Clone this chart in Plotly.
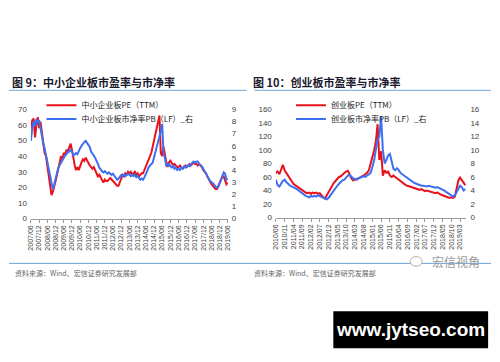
import pandas as pd
import plotly.graph_objects as go

W, H = 500, 362

# ---------------- data ----------------
sme_pe = [58, 63, 64, 52, 60, 65, 58, 62, 55, 48,
          42, 40, 33, 27, 21, 15, 17, 20, 24, 28,
          33, 37, 40, 38, 42, 41, 44, 43, 46, 48,
          44, 38, 34, 31, 33, 31, 34, 36, 38, 37,
          39, 37, 35, 34, 33, 32, 33, 31, 29, 27,
          28, 26, 24, 23, 25, 24, 24, 25, 26, 25,
          24, 23, 22, 21, 21, 23, 26, 28, 27, 29,
          28, 30, 29, 30, 28, 29, 30, 28, 29, 27,
          28, 29, 29, 31, 33, 35, 37, 39, 42, 46,
          50, 54, 58, 63, 66, 42, 40, 46, 40, 36,
          33, 36, 37, 35, 34, 35, 34, 33, 33, 34,
          33, 32, 33, 34, 33, 34, 35, 34, 35, 36,
          35, 35, 34, 35, 34, 33, 31, 30, 29, 27,
          25, 23, 22, 21, 20, 19, 19, 21, 24, 26,
          27, 27, 25, 22, 23]
sme_pb = [6.4, 7.5, 8.0, 7.6, 8.2, 7.9, 8.1, 7.4, 6.8, 6.2,
          5.8, 5.2, 4.6, 4.0, 3.3, 2.7, 2.4, 2.8, 3.3, 3.7,
          4.2, 4.4, 4.6, 4.9, 5.0, 5.2, 5.3, 5.5, 5.5, 5.7,
          5.5, 5.2, 5.3, 5.4, 5.3, 5.6, 5.8, 6.0, 6.2, 6.3,
          6.4, 6.2, 6.0, 5.9, 5.5, 5.3, 5.2, 5.0, 4.8, 4.5,
          4.2, 4.0, 3.9, 3.8, 3.9, 3.8, 3.7, 3.8, 3.7, 3.6,
          3.7, 3.5, 3.3, 3.2, 3.3, 3.5, 3.6, 3.5, 3.6, 3.5,
          3.6, 3.7, 3.6, 3.5, 3.6, 3.5, 3.6, 3.4, 3.5, 3.3,
          3.2, 3.3, 3.2, 3.4, 3.6, 3.9, 4.2, 4.4, 4.5, 4.6,
          5.0, 5.4, 5.9, 6.3, 6.8, 7.2, 7.8, 5.4, 5.0, 4.3,
          4.4, 4.5, 4.3, 4.2, 4.4, 4.1, 4.2, 4.0, 4.1, 4.0,
          4.2, 4.1, 4.3, 4.2, 4.3, 4.4, 4.3, 4.5, 4.6, 4.7,
          4.6, 4.7, 4.7, 4.5, 4.4, 4.3, 4.1, 3.9, 3.6, 3.4,
          3.2, 3.1, 3.0, 2.9, 2.8, 2.6, 2.55, 2.6, 2.9, 3.3,
          3.6, 3.8, 3.7, 3.2, 3.3]
gem_pe = [66, 68, 64, 72, 78, 70, 66, 62, 58, 54,
          50, 48, 46, 44, 43, 41, 38, 37, 36, 37,
          35, 37, 36, 37, 35, 36, 33, 30, 28, 33,
          38, 43, 48, 51, 54, 57, 60, 61, 64, 66,
          68, 69, 64, 58, 55, 57, 56, 58, 60, 61,
          62, 64, 66, 70, 82, 90, 100, 112, 138, 85,
          98, 62, 70, 66, 68, 62, 60, 62, 60, 58,
          56, 54, 52, 50, 48, 47, 46, 45, 44, 43,
          42, 42, 41, 42, 40, 39, 40, 39, 38, 38,
          37, 36, 37, 35, 34, 33, 32, 32, 30, 29,
          30, 29, 31, 45, 55, 59, 55, 50, 48]
gem_pb = [5.6, 4.8, 4.6, 5.0, 5.4, 5.6, 5.2, 5.0, 4.7, 4.6,
          4.5, 4.3, 4.2, 4.0, 3.8, 3.6, 3.3, 3.2, 3.1, 3.0,
          3.2, 3.1, 3.2, 3.1, 3.3, 3.2, 3.0, 2.9, 2.8, 2.7,
          2.9, 3.3, 3.7, 4.0, 4.3, 4.7, 5.0, 5.3, 5.5, 5.6,
          5.9, 6.2, 6.3, 6.1, 5.8, 5.6, 5.7, 5.8, 5.9, 6.0,
          6.1, 6.0, 6.2, 6.3, 6.6, 7.5, 8.5, 10.0, 11.5, 12.0,
          15.0, 10.0, 8.0, 8.5, 9.2, 9.4, 8.5, 7.2, 7.0, 7.3,
          7.0, 6.6, 6.4, 6.2, 6.0, 5.8, 5.6, 5.4, 5.2, 5.1,
          5.0, 4.9, 4.8, 4.7, 4.7, 4.6, 4.6, 4.7, 4.6, 4.5,
          4.5, 4.4, 4.5, 4.4, 4.3, 4.2, 4.0, 3.8, 3.6, 3.4,
          3.2, 3.1, 3.3, 3.8, 4.3, 4.7, 4.5, 4.0, 4.2]

sme_dates = pd.date_range("2007-06-01", periods=len(sme_pe), freq="MS")
gem_dates = pd.date_range("2010-06-01", periods=len(gem_pe), freq="MS")

sme_ticks = pd.date_range("2007-06-01", "2019-06-01", freq="6MS")
gem_ticks = pd.date_range("2010-06-01", "2019-03-01", freq="5MS")
sme_ticktext = [d.strftime("%Y/%m") for d in sme_ticks]
gem_ticktext = [d.strftime("%Y/%m") for d in gem_ticks]

names = {
    "sme_pe": "中小企业板PE（TTM）",
    "sme_pb": "中小企业板市净率PB（LF）_右",
    "gem_pe": "创业板PE（TTM）",
    "gem_pb": "创业板市净率PB（LF）_右",
}

# ---------------- styling ----------------
RED = "#e8121c"
BLUE = "#3d6ff2"
RULE = "#6fa3d6"
TXT = "#404040"
CJK = "Noto Sans CJK SC"
LAT = "Liberation Sans"


def px(x):
    return x / W


def py(y):
    return 1 - y / H


fig = go.Figure()
fig.add_trace(go.Scatter(x=sme_dates, y=sme_pe, name=names["sme_pe"], mode="lines",
                         line=dict(color=RED, width=2), xaxis="x", yaxis="y", legend="legend"))
fig.add_trace(go.Scatter(x=sme_dates, y=sme_pb, name=names["sme_pb"], mode="lines",
                         line=dict(color=BLUE, width=2), xaxis="x", yaxis="y2", legend="legend2"))
fig.add_trace(go.Scatter(x=gem_dates, y=gem_pe, name=names["gem_pe"], mode="lines",
                         line=dict(color=RED, width=2), xaxis="x2", yaxis="y3", legend="legend3"))
fig.add_trace(go.Scatter(x=gem_dates, y=gem_pb, name=names["gem_pb"], mode="lines",
                         line=dict(color=BLUE, width=2), xaxis="x2", yaxis="y4", legend="legend4"))

xcommon = dict(type="date", tickmode="array", tickangle=-90, showgrid=False, zeroline=False,
               showline=True, linecolor="#9a9a9a", linewidth=1, ticks="outside", ticklen=3,
               tickcolor="#9a9a9a", tickfont=dict(family=LAT, size=7, color=TXT))
ycommon = dict(showgrid=False, zeroline=False, showline=False, ticks="",
               tickfont=dict(family=LAT, size=8, color=TXT), ticklabelstandoff=3)


def leg(x, ytop):
    return dict(x=px(x), y=py(ytop), xanchor="left", yanchor="top", bgcolor="rgba(0,0,0,0)",
                font=dict(family=CJK, size=8, color="#222"), tracegroupgap=0, itemwidth=30)


fig.update_layout(
    width=W, height=H, margin=dict(l=0, r=0, t=0, b=0),
    paper_bgcolor="white", plot_bgcolor="white",
    xaxis=dict(xcommon, domain=[px(27.3), px(227)], anchor="y",
               range=["2007-06-01", "2019-06-01"], tickvals=list(sme_ticks), ticktext=sme_ticktext),
    yaxis=dict(ycommon, domain=[py(220), py(108)], anchor="x", range=[0, 70], dtick=10),
    yaxis2=dict(ycommon, overlaying="y", side="right", anchor="x", range=[0, 9], dtick=1),
    xaxis2=dict(xcommon, domain=[px(275.7), px(469)], anchor="y3",
                range=["2010-06-01", "2019-06-20"], tickvals=list(gem_ticks), ticktext=gem_ticktext),
    yaxis3=dict(ycommon, domain=[py(219), py(108)], anchor="x2", range=[0, 160], dtick=20),
    yaxis4=dict(ycommon, overlaying="y3", side="right", anchor="x2", range=[0, 16], dtick=2),
    legend=leg(38, 89),
    legend2=leg(38, 103),
    legend3=leg(291, 89),
    legend4=leg(291, 103),
    showlegend=True,
)

annotations = [
    dict(text="<b>图 9：中小企业板市盈率与市净率</b>", x=px(6), y=py(80), xanchor="left", yanchor="middle",
         font=dict(family=CJK, size=11, color="#1a1a2e")),
    dict(text="<b>图 10：创业板市盈率与市净率</b>", x=px(251), y=py(80), xanchor="left", yanchor="middle",
         font=dict(family=CJK, size=11, color="#1a1a2e")),
    dict(text="资料来源：Wind、宏信证券研究发展部", x=px(9), y=py(276), xanchor="left", yanchor="middle",
         font=dict(family=CJK, size=7, color="#666")),
    dict(text="资料来源：Wind、宏信证券研究发展部", x=px(252), y=py(276), xanchor="left", yanchor="middle",
         font=dict(family=CJK, size=7, color="#666")),
    dict(text="宏信视角", x=px(458), y=py(264), xanchor="center", yanchor="middle",
         font=dict(family=CJK, size=12, color="#9a9a9a")),
    dict(text="<b>www.jytseo.com</b>", x=px(412.5), y=py(334), xanchor="center", yanchor="middle",
         font=dict(family=LAT, size=19, color="white")),
]
for a in annotations:
    a.update(xref="paper", yref="paper", showarrow=False)
fig.update_layout(annotations=annotations)

shapes = [
    dict(type="line", x0=px(5), x1=px(246), y0=py(88.5), y1=py(88.5), line=dict(color=RULE, width=1)),
    dict(type="line", x0=px(254), x1=px(494), y0=py(88.5), y1=py(88.5), line=dict(color=RULE, width=1)),
    dict(type="line", x0=px(5), x1=px(494), y0=py(266), y1=py(266), line=dict(color=RULE, width=1)),
    dict(type="circle", x0=px(412), x1=px(424), y0=py(269), y1=py(259), line=dict(color="#b0b0b0", width=1),
         fillcolor="white"),
    dict(type="rect", x0=px(334), x1=px(491), y0=py(353), y1=py(315), fillcolor="black",
         line=dict(width=0)),
]
for s in shapes:
    s.update(xref="paper", yref="paper")
fig.update_layout(shapes=shapes)

fig.write_html("out.html", config={"displayModeBar": False},
               post_script="document.body.style.margin='0';")
